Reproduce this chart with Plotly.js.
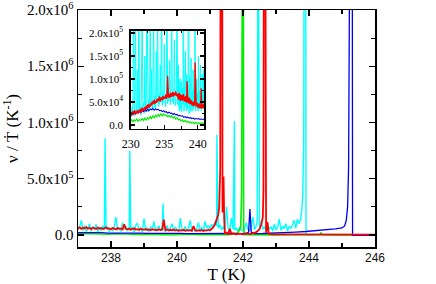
<!DOCTYPE html>
<html>
<head>
<meta charset="utf-8">
<script src="https://cdn.plot.ly/plotly-3.0.1.min.js"></script>
<style>html,body{margin:0;padding:0;background:#fff;}#chart{width:436px;height:284px;}</style>
</head>
<body>
<div id="chart"></div>
<script>
// ---------- DATA ----------
// Cyan series
const cyanT = [
  229.9,230.0,230.1,230.2,230.3,230.4,230.5,230.6,230.7,230.8,
  230.9,231.0,231.1,231.2,231.3,231.4,231.5,231.6,231.7,231.8,
  231.9,232.0,232.1,232.2,232.3,232.4,232.5,232.6,232.7,232.8,
  232.9,233.0,233.1,233.2,233.3,233.4,233.5,233.6,233.7,233.8,
  233.9,234.0,234.1,234.2,234.3,234.4,234.5,234.6,234.7,234.8,
  234.9,235.0,235.1,235.2,235.3,235.4,235.5,235.6,235.7,235.8,
  235.9,236.0,236.1,236.2,236.3,236.4,236.5,236.6,236.7,236.8,
  236.9,
  237.00,237.05,237.10,237.15,237.20,237.25,237.30,237.35,237.40,237.45,
  237.50,237.55,237.60,237.65,237.70,237.75,237.80,237.82,237.85,237.90,237.95,
  238.00,238.05,238.10,238.15,238.20,238.25,238.30,238.35,238.40,238.45,
  238.50,238.55,238.57,238.60,238.65,238.70,238.75,238.80,238.85,238.90,238.95,
  239.00,239.05,239.10,239.15,239.20,239.25,239.30,239.35,239.40,239.45,
  239.50,239.55,239.58,239.60,239.65,239.70,239.75,239.80,239.85,239.90,239.95,
  240.00,240.05,240.10,240.15,240.20,240.25,240.30,240.35,240.40,240.45,
  240.50,240.55,240.60,240.65,240.70,240.75,240.80,240.85,240.90,240.95,
  241.00,241.05,241.10,241.15,241.20,241.21,241.25,241.30,241.35,241.40,241.45,
  241.50,241.55,241.60,241.65,241.70,241.74,241.75,241.80,241.85,241.90,241.95,
  242.00,242.05,242.10,242.15,242.20,242.25,242.30,242.35,242.40,242.43,242.45,242.47,242.50,
  242.55,242.60,242.65,242.70,242.75,242.80,242.85,242.90,242.95,
  243.00,243.05,243.10,243.15,243.20,243.25,243.30,243.35,243.40,243.45,
  243.50,243.55,243.60,243.65,243.70,243.74,243.78,243.81,243.84,243.85,243.90,243.91,243.95,244.00,
  244.50,245.00,245.50,246.00
];
const cyanV = [
  22000,35000,18000,40000,26000,300000,20000,38000,260000,24000,
  45000,120000,28000,320000,30000,42000,22000,95000,280000,33000,
  48000,25000,150000,36000,30000,310000,44000,28000,55000,34000,
  290000,40000,120000,32000,58000,300000,38000,62000,35000,160000,
  48000,270000,40000,66000,45000,130000,50000,320000,42000,70000,
  48000,175000,55000,40000,72000,300000,46000,80000,52000,140000,
  44000,75000,290000,50000,68000,45000,185000,58000,42000,78000,
  270000,
  45000,70000,130000,40000,85000,30000,60000,100000,35000,75000,
  50000,95000,28000,65000,40000,80000,45000,860000,55000,70000,30000,
  60000,35000,75000,160000,40000,65000,30000,110000,50000,80000,
  35000,60000,750000,40000,70000,25000,85000,105000,45000,60000,30000,
  145000,40000,65000,30000,75000,45000,120000,35000,60000,80000,
  40000,65000,280000,50000,30000,85000,40000,60000,100000,35000,70000,
  45000,30000,150000,55000,40000,75000,35000,60000,130000,40000,
  70000,30000,55000,110000,45000,65000,35000,120000,60000,85000,
  50000,95000,70000,110000,80000,890000,60000,90000,45000,75000,40000,
  250000,60000,40000,150000,50000,1010000,45000,60000,30000,70000,40000,
  40000,60000,110000,50000,40000,70000,160000,50000,80000,120000,2500000,2500000,60000,
  120000,50000,70000,40000,90000,50000,75000,35000,95000,
  45000,70000,140000,40000,80000,55000,100000,35000,75000,60000,
  90000,130000,60000,140000,100000,130000,220000,350000,800000,2500000,2500000,10000,3000,3000,
  3000,3000,3000,3000
];

// Red series
const redT = [
  229.9,230.0,230.1,230.2,230.3,230.4,230.5,230.6,230.7,230.8,
  230.9,231.0,231.1,231.2,231.3,231.4,231.5,231.6,231.7,231.8,
  231.9,232.0,232.1,232.2,232.3,232.4,232.5,232.6,232.7,232.8,
  232.9,233.0,233.1,233.2,233.3,233.4,233.5,233.6,233.7,233.8,
  233.9,234.0,234.1,234.2,234.3,234.4,234.5,234.6,234.7,234.8,
  234.9,235.0,235.1,235.2,235.3,235.4,235.5,235.6,235.7,235.8,
  235.9,236.0,236.1,236.2,236.3,236.4,236.5,236.6,236.7,236.8,
  236.9,
  237.00,237.05,237.10,237.15,237.20,237.25,237.30,237.35,237.40,237.45,
  237.50,237.55,237.60,237.65,237.70,237.75,237.80,237.85,237.90,237.95,
  238.00,238.05,238.10,238.15,238.20,238.25,238.30,238.35,238.40,238.45,
  238.50,238.55,238.60,238.65,238.70,238.75,238.80,238.85,238.90,238.95,
  239.00,239.05,239.10,239.15,239.20,239.25,239.30,239.35,239.40,239.45,
  239.50,239.55,239.60,239.65,239.70,239.75,239.80,239.85,239.90,239.95,
  240.00,240.05,240.10,240.15,240.20,240.25,240.30,240.35,240.40,240.45,
  240.50,240.55,240.60,240.65,240.70,240.75,240.80,240.85,240.90,240.95,
  241.00,241.05,
  241.10,241.15,241.20,241.25,241.28,241.31,241.32,241.37,241.38,241.41,
  241.43,241.45,241.50,241.55,241.60,241.65,241.70,241.80,241.90,242.00,
  242.10,242.20,242.30,242.40,242.50,242.56,242.60,242.62,242.63,242.68,
  242.70,242.74,242.78,242.90,243.20,243.60,244.00,244.50,244.80,245.00,
  245.50,246.00
];
const redV = [
  24000,20000,28000,22000,30000,24000,27000,32000,23000,29000,
  26000,33000,25000,31000,28000,35000,27000,32000,38000,30000,
  36000,31000,39000,33000,42000,35000,40000,46000,37000,44000,
  40000,48000,43000,51000,45000,49000,55000,46000,52000,48000,
  56000,50000,58000,53000,62000,51000,57000,60000,54000,63000,
  56000,61000,58000,66000,57000,63000,107000,60000,68000,59000,
  64000,70000,61000,67000,72000,62000,69000,65000,73000,63000,
  68000,
  60000,68000,55000,64000,58000,70000,56000,63000,52000,66000,
  59000,54000,65000,57000,62000,53000,60000,67000,55000,58000,
  52000,61000,56000,50000,63000,54000,58000,49000,95000,55000,
  50000,57000,47000,53000,60000,48000,52000,45000,56000,50000,
  46000,53000,44000,49000,42000,51000,45000,48000,41000,50000,
  44000,47000,136000,43000,49000,40000,46000,42000,48000,39000,
  45000,38000,43000,40000,47000,37000,42000,39000,44000,36000,
  80000,41000,37000,43000,38000,45000,36000,42000,39000,47000,
  41000,55000,
  70000,95000,130000,180000,250000,600000,2500000,2500000,200000,520000,
  150000,10000,20000,8000,55000,8000,15000,5000,12000,5000,
  14000,8000,15000,25000,50000,100000,160000,400000,2500000,2500000,
  20000,115000,10000,6000,5000,4000,3000,8000,6000,5000,
  4000,3000
];

// Green series
const greenT = [
  229.9,230.1,230.3,230.5,230.7,230.9,231.1,231.3,231.5,231.7,
  231.9,232.1,232.3,232.5,232.7,232.9,233.1,233.3,233.5,233.7,
  233.9,234.1,234.3,234.5,234.7,234.9,235.1,235.3,235.5,235.7,
  235.9,236.1,236.3,236.5,236.7,236.9,237.1,237.3,237.5,237.7,
  237.9,238.1,238.3,238.5,238.7,238.9,239.1,239.3,239.5,239.7,
  239.9,240.1,240.3,240.5,240.7,240.9,241.1,241.3,241.5,241.7,
  241.85,241.93,241.96,241.98,242.01,242.02,242.05,242.30,242.60,243.00,
  243.50,244.00,244.33,244.36,244.39,244.70,245.00,245.50,246.00
];
const greenV = [
  8000,12000,7000,11000,9000,13000,8000,12000,10000,14000,
  10000,15000,11000,16000,13000,18000,14000,20000,16000,21000,
  18000,23000,19000,25000,20000,24000,21000,22000,18000,21000,
  17000,20000,15000,18000,13000,16000,11000,13000,9000,11000,
  7000,10000,6000,8000,5000,7000,4000,6000,3000,6000,
  3000,5000,2000,4000,3000,5000,2000,4000,3000,6000,
  20000,70000,400000,2500000,2500000,50000,2000,0,3000,1000,
  2000,1000,3000,20000,3000,1000,0,1000,0
];

// Blue series
const blueT = [
  229.9,230.1,230.3,230.5,230.7,230.9,231.1,231.3,231.5,231.7,
  231.9,232.1,232.3,232.5,232.7,232.9,233.1,233.3,233.5,233.7,
  233.9,234.1,234.3,234.5,234.7,234.9,235.1,235.3,235.5,235.7,
  235.9,236.1,236.3,236.5,236.7,236.9,237.1,237.3,237.5,237.7,
  237.9,238.1,238.3,238.5,238.7,238.9,239.1,239.3,239.5,239.7,
  239.9,240.1,240.3,240.5,240.7,240.9,241.1,241.3,241.5,241.7,
  241.9,
  242.10,242.17,242.21,242.25,242.35,242.60,243.00,243.30,243.60,243.90,
  244.10,244.35,244.40,244.60,244.80,245.00,245.08,245.13,245.17,245.20,
  245.22,245.24,245.31,245.32,245.60,246.00
];
const blueV = [
  23000,25000,22000,27000,24000,28000,26000,30000,27000,31000,
  29000,32000,30000,34000,31000,35000,33000,36000,32000,35000,
  33000,34000,31000,32000,29000,31000,28000,29000,26000,28000,
  25000,26000,23000,25000,22000,23000,20000,21000,19000,20000,
  17000,18000,16000,17000,15000,16000,14000,15000,13000,14000,
  13000,14000,12000,13000,12000,13000,11000,12000,12000,13000,
  12000,
  13000,25000,230000,22000,12000,13000,16000,20000,26000,31000,
  35000,40000,46000,47000,54000,62000,80000,130000,250000,600000,
  1400000,3000000,3000000,-4000,-4000,-4000
];

// Tick labels
const mainXTickVals = [238, 240, 242, 244, 246];
const mainXTickText = ['238', '240', '242', '244', '246'];
const mainXMinor = [237, 239, 241, 243, 245];
const mainYTickVals = [0, 500000, 1000000, 1500000, 2000000];
const mainYTickText = ['0.0', '5.0x10<sup>5</sup>', '1.0x10<sup>6</sup>', '1.5x10<sup>6</sup>', '2.0x10<sup>6</sup>'];
const mainYMinor = [250000, 750000, 1250000, 1750000];
const insetXTickVals = [230, 235, 240];
const insetXTickText = ['230', '235', '240'];
const insetXMinor = [232.5, 237.5];
const insetYTickVals = [0, 50000, 100000, 150000, 200000];
const insetYTickText = ['0.0', '5.0x10<sup>4</sup>', '1.0x10<sup>5</sup>', '1.5x10<sup>5</sup>', '2.0x10<sup>5</sup>'];
const insetYMinor = [25000, 75000, 125000, 175000];

// ---------- CHART ----------
[[cyanT, cyanV, 'cyan'], [redT, redV, 'red'], [greenT, greenV, 'green'], [blueT, blueV, 'blue']].forEach(function (s) {
  if (s[0].length !== s[1].length) throw new Error(s[2] + ' length mismatch ' + s[0].length + ' vs ' + s[1].length);
});

const series = [
  {t: cyanT, v: cyanV, color: '#00FFFF', w: 1.4, wi: 1.0},
  {t: greenT, v: greenV, color: '#00EE00', w: 1.6, wi: 1.2},
  {t: blueT, v: blueV, color: '#0000EE', w: 1.3, wi: 1.1},
  {t: redT, v: redV, color: '#FF0000', w: 1.8, wi: 1.4}
];
const traces = [];
series.forEach(function (s) {
  traces.push({x: s.t, y: s.v, type: 'scatter', mode: 'lines', xaxis: 'x', yaxis: 'y',
    line: {color: s.color, width: s.w}, hoverinfo: 'skip'});
});
series.forEach(function (s) {
  traces.push({x: s.t, y: s.v, type: 'scatter', mode: 'lines', xaxis: 'x2', yaxis: 'y2',
    line: {color: s.color, width: s.wi}, hoverinfo: 'skip'});
});

function axisBase(extra) {
  return Object.assign({
    showline: true, linecolor: '#000', linewidth: 1.5, mirror: 'ticks',
    ticks: 'inside', tickcolor: '#000', tickwidth: 1.2,
    showgrid: false, zeroline: false, fixedrange: true,
    ticklabeloverflow: 'allow'
  }, extra);
}

const layout = {
  width: 436, height: 284,
  margin: {l: 78, r: 61, t: 10, b: 37},
  paper_bgcolor: '#fff', plot_bgcolor: '#fff',
  showlegend: false,
  font: {family: 'Liberation Serif', color: '#000'},
  xaxis: axisBase({
    domain: [0, 1], anchor: 'y', range: [237, 246],
    tickmode: 'array', tickvals: mainXTickVals, ticktext: mainXTickText, ticklen: 6,
    minor: {tickmode: 'array', tickvals: mainXMinor, ticks: 'inside', ticklen: 4, tickwidth: 1.2, tickcolor: '#000'},
    tickfont: {family: 'Liberation Sans', size: 12, color: '#111'},
    ticklabelstandoff: -1,
    title: {text: 'T (K)', font: {family: 'Liberation Serif', size: 17, color: '#000'}, standoff: 0}
  }),
  yaxis: axisBase({
    domain: [0, 1], anchor: 'x', range: [-107000, 2000000],
    tickmode: 'array', tickvals: mainYTickVals, ticktext: mainYTickText, ticklen: 6,
    minor: {tickmode: 'array', tickvals: mainYMinor, ticks: 'inside', ticklen: 4, tickwidth: 1.2, tickcolor: '#000'},
    tickfont: {family: 'Liberation Serif', size: 15, color: '#000'},
    title: {text: 'ν / Ṫ (K<sup>-1</sup>)', font: {family: 'Liberation Serif', size: 17, color: '#000'}, standoff: 4}
  }),
  xaxis2: axisBase({
    domain: [0.1778, 0.4259], anchor: 'y2', range: [230, 241],
    tickmode: 'array', tickvals: insetXTickVals, ticktext: insetXTickText, ticklen: 4,
    minor: {tickmode: 'array', tickvals: insetXMinor, ticks: 'inside', ticklen: 2.5, tickwidth: 1, tickcolor: '#000'},
    tickfont: {family: 'Liberation Serif', size: 12, color: '#000'},
    ticklabelstandoff: 3
  }),
  yaxis2: axisBase({
    domain: [0.4979, 0.9127], anchor: 'x2', range: [-8700, 205000],
    tickmode: 'array', tickvals: insetYTickVals, ticktext: insetYTickText, ticklen: 4,
    minor: {tickmode: 'array', tickvals: insetYMinor, ticks: 'inside', ticklen: 2.5, tickwidth: 1, tickcolor: '#000'},
    tickfont: {family: 'Liberation Serif', size: 11, color: '#000'},
    ticklabelstandoff: 4
  })
};

Plotly.newPlot('chart', traces, layout, {staticPlot: true, displayModeBar: false});
</script>
</body>
</html>
